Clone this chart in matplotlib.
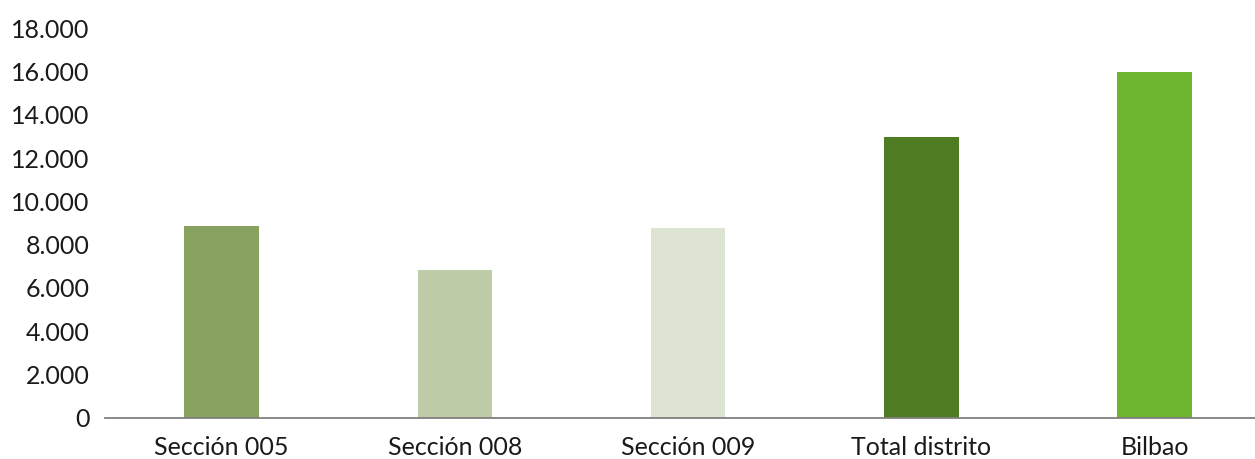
import matplotlib.pyplot as plt
from matplotlib.ticker import FuncFormatter

plt.rcParams['font.family'] = ['Lato', 'DejaVu Sans']

# data
categorias = ['Sección 005', 'Sección 008', 'Sección 009', 'Total distrito', 'Bilbao']
valores = [8870, 6835, 8780, 12990, 15990]
colores = ['#88A25F', '#BFCCA8', '#DDE4D2', '#4F7B22', '#6DB42F']
yticks = [0, 2000, 4000, 6000, 8000, 10000, 12000, 14000, 16000, 18000]

fig = plt.figure(figsize=(12.55, 4.59), dpi=100)
ax = fig.add_axes([105 / 1255, (459 - 417.7) / 459, 1150 / 1255, (417.7 - 28.5) / 459])

x = range(len(categorias))
ax.bar(x, valores, width=0.32, color=colores, zorder=2)

ax.set_xlim(-0.5, 4.43)
ax.set_ylim(0, 18000)
ax.set_yticks(yticks)
ax.yaxis.set_major_formatter(FuncFormatter(lambda v, p: f'{int(v):,}'.replace(',', '.')))
ax.set_xticks(list(x))
ax.set_xticklabels(categorias)

for s in ['top', 'right', 'left']:
    ax.spines[s].set_visible(False)
ax.spines['bottom'].set_color('#808080')
ax.spines['bottom'].set_linewidth(1.3)
ax.spines['bottom'].set_zorder(3)

ax.tick_params(axis='y', length=0, pad=11, labelsize=18, labelcolor='#1a1a1a')
ax.tick_params(axis='x', length=0, pad=13, labelsize=18, labelcolor='#1a1a1a')

fig.savefig('out.png', dpi=100)
